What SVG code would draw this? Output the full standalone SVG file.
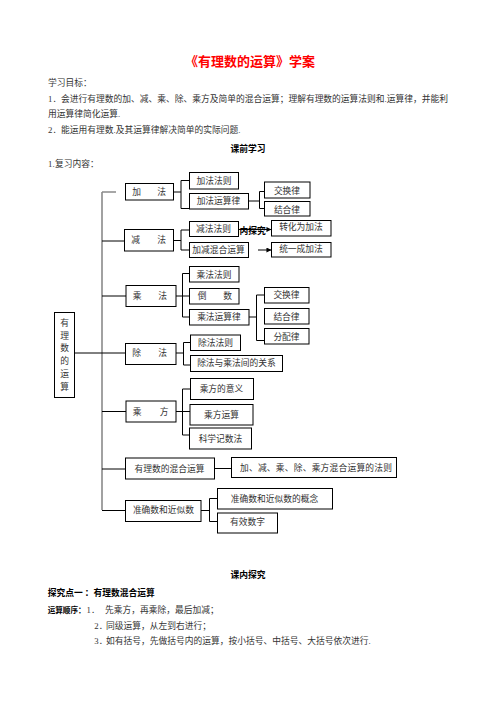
<svg xmlns="http://www.w3.org/2000/svg" width="496" height="702" viewBox="0 0 496 702">
<style>
.bg{fill:#fff}
.b{fill:#fff;stroke:#000;stroke-width:1}
.t{font-family:"Liberation Serif","Noto Sans CJK SC",serif;font-size:8.75px;fill:#333}
.c{text-anchor:middle}
.k{font-weight:bold;fill:#000}
.ln{stroke:#000;stroke-width:1;fill:none}
.gl{stroke:#8a8a8a;stroke-width:1.6;fill:none}
</style>
<defs>
<marker id="ah" viewBox="0 0 6 6" refX="5.5" refY="3" markerWidth="5" markerHeight="5" orient="auto" markerUnits="userSpaceOnUse">
<path d="M0,0 L6,3 L0,6 Z" fill="#000"/>
</marker>
</defs>
<rect class="bg" x="0" y="0" width="496" height="702"/>

<g id="header">
<text x="250" y="65.6" class="c" font-family="'Liberation Serif','Noto Sans CJK SC',serif" font-size="13" font-weight="bold" fill="#ff0000">《有理数的运算》学案</text>
<text class="t" x="48" y="86">学习目标：</text>
<text class="t" y="101.6"><tspan x="48">1．</tspan><tspan x="61" textLength="387" lengthAdjust="spacing">会进行有理数的加、减、乘、除、乘方及简单的混合运算；理解有理数的运算法则和.运算律，并能利</tspan></text>
<text class="t" x="48" y="117.3">用运算律简化运算.</text>
<text class="t" y="133.3"><tspan x="48">2．</tspan><tspan x="61">能运用有理数.及其运算律解决简单的实际问题.</tspan></text>
<text class="t c k" x="248" y="151.6">课前学习</text>
<text class="t" y="167.3"><tspan x="48">1.</tspan><tspan x="55">复习内容：</tspan></text>
</g>

<g id="connectors">
<path class="gl" d="M102,192 V510 M102,192 H116"/>
<path class="ln" d="M102,241 H124.5 M102,296 H126 M74.5,353 H125.5 M102,411.5 H126 M102,469 H125.5 M102,510.5 H125.5"/>
<path class="ln" d="M173.5,192 H181 M181,180.5 V208.5 M181,180.5 H189.5 M181,208.5 H189.5"/>
<path class="ln" d="M248.5,201 H259.5 M259.5,191.5 V208.5 M259.5,191.5 H264.5 M259.5,208.5 H264.5"/>
<path class="ln" d="M173.5,240.5 H181 M181,230 V250 M181,230 H189.5 M181,250 H189.5"/>
<path class="ln" d="M176,296 H189.5 M182.5,273.5 V317 M182.5,273.5 H189.5 M182.5,317 H189.5"/>
<path class="ln" d="M249,317 H256.5 M256.5,295 V340.5 M256.5,295 H264.5 M256.5,340.5 H264.5"/>
<path class="ln" d="M176,353 H183.5 M183.5,342.5 V365 M183.5,342.5 H190.5 M183.5,365 H190.5"/>
<path class="ln" d="M176,411.5 H190 M182.5,389 V435 M182.5,389 H190.5 M182.5,435 H189.5"/>
<path class="ln" d="M214.5,468.5 H231.5"/>
<path class="ln" d="M201,510.5 H209.5 M209.5,498.5 V521.5 M209.5,498.5 H217.5 M209.5,521.5 H217.5"/>
<path class="ln" d="M238.5,229.5 H271" marker-end="url(#ah)"/>
<path class="ln" d="M258,250 H271" marker-end="url(#ah)"/>
</g>

<g id="n-root"><rect class="b" x="54.5" y="312.5" width="20" height="85"/><text class="t c" x="64.5 64.5 64.5 64.5 64.5 64.5" y="326 338.5 351 364.3 377.3 390.3">有理数的运算</text></g>
<g id="n-jia"><rect class="b" x="125.5" y="183.5" width="48" height="16.5"/><text class="t c" x="136.7 161.7" y="194.7">加法</text></g>
<g id="n-jiafz"><rect class="b" x="189.5" y="172.5" width="49" height="16.5"/><text class="t c" x="214" y="183.8">加法法则</text></g>
<g id="n-jiayl"><rect class="b" x="189.5" y="193.5" width="59" height="15.5"/><text class="t c" x="218.5" y="204.3">加法运算律</text></g>
<g id="n-jh1"><rect class="b" x="264.5" y="182" width="45.5" height="16"/><text class="t c" x="287" y="193.6">交换律</text></g>
<g id="n-jh2"><rect class="b" x="264.5" y="201.5" width="45.5" height="14.5"/><text class="t c" x="287" y="212.6">结合律</text></g>
<g id="n-jian"><rect class="b" x="124.5" y="229.5" width="49" height="21.5"/><text class="t c" x="135.5 161.7" y="243">减法</text></g>
<g id="n-jianfz"><rect class="b" x="189.5" y="221.5" width="49" height="15"/><text class="t c" x="213.5" y="231.8">减法法则</text></g>
<g id="n-jjhh"><rect class="b" x="189.5" y="242.5" width="59" height="15"/><text class="t c" x="218.5" y="253">加减混合运算</text></g>
<text class="t k" x="239.5" y="234" font-size="9.5">内探究</text>
<g id="n-zhjf"><rect class="b" x="271.5" y="220.5" width="59.5" height="15.5"/><text class="t c" x="301" y="230.2">转化为加法</text></g>
<g id="n-tycjf"><rect class="b" x="271.5" y="242.5" width="59.5" height="14.5"/><text class="t c" x="301" y="251.7">统一成加法</text></g>
<g id="n-chengfz"><rect class="b" x="189.5" y="266.5" width="49.5" height="15.5"/><text class="t c" x="214" y="277.8">乘法法则</text></g>
<g id="n-cheng"><rect class="b" x="126" y="285.5" width="50" height="21"/><text class="t c" x="137 162.7" y="298.7">乘法</text></g>
<g id="n-daoshu"><rect class="b" x="189.5" y="288.5" width="49.5" height="15.5"/><text class="t c" x="202 227.7" y="299.4">倒数</text></g>
<g id="n-chengyl"><rect class="b" x="189.5" y="309.5" width="59.5" height="15.5"/><text class="t c" x="219" y="320.4">乘法运算律</text></g>
<g id="n-ch1"><rect class="b" x="264.5" y="287.5" width="44.5" height="15.5"/><text class="t c" x="286.5" y="298.4">交换律</text></g>
<g id="n-ch2"><rect class="b" x="264.5" y="308.5" width="44.5" height="15.5"/><text class="t c" x="286.5" y="319.6">结合律</text></g>
<g id="n-ch3"><rect class="b" x="264.5" y="328.5" width="44.5" height="15.5"/><text class="t c" x="286.5" y="339.7">分配律</text></g>
<g id="n-chu"><rect class="b" x="125.5" y="343.5" width="50.5" height="21"/><text class="t c" x="136.7 162.7" y="355.8">除法</text></g>
<g id="n-chufz"><rect class="b" x="190.5" y="335" width="50" height="15.5"/><text class="t c" x="215.5" y="345.6">除法法则</text></g>
<g id="n-chugx"><rect class="b" x="190.5" y="355.5" width="92" height="16"/><text class="t c" x="236.5" y="365.6">除法与乘法间的关系</text></g>
<g id="n-chengfang"><rect class="b" x="126" y="401" width="50" height="21"/><text class="t c" x="137 164" y="414.8">乘方</text></g>
<g id="n-cfyy"><rect class="b" x="190.5" y="378.5" width="63" height="21"/><text class="t c" x="221.5" y="391.6">乘方的意义</text></g>
<g id="n-cfys"><rect class="b" x="190" y="404.5" width="63" height="20.5"/><text class="t c" x="221.5" y="417.6">乘方运算</text></g>
<g id="n-kxjs"><rect class="b" x="189.5" y="428" width="62" height="21"/><text class="t c" x="220.5" y="441.6">科学记数法</text></g>
<g id="n-hhys"><rect class="b" x="125.5" y="458" width="89" height="21"/><text class="t c" x="169.5" y="471.6">有理数的混合运算</text></g>
<g id="n-hhfz"><rect class="b" x="231.5" y="457.5" width="165" height="20"/><text class="t" x="240" y="470.6" textLength="152" lengthAdjust="spacing">加、减、乘、除、乘方混合运算的法则</text></g>
<g id="n-zqs"><rect class="b" x="125.5" y="500.5" width="75.5" height="21"/><text class="t c" x="163.5" y="513.4">准确数和近似数</text></g>
<g id="n-gn"><rect class="b" x="217.5" y="488.5" width="115" height="20.5"/><text class="t c" x="274.5" y="501.5">准确数和近似数的概念</text></g>
<g id="n-yxsz"><rect class="b" x="217.5" y="513" width="60" height="20"/><text class="t c" x="247.5" y="525">有效数字</text></g>

<g id="footer">
<text class="t c k" x="248" y="578.3">课内探究</text>
<text class="t k" x="47.7" y="596">探究点一 ：有理数混合运算</text>
<text class="t" y="612.6"><tspan x="47.7" class="k" font-size="7.6">运算顺序：</tspan><tspan x="86.5">1．</tspan><tspan x="105">先乘方，再乘除，最后加减；</tspan></text>
<text class="t" y="629"><tspan x="94.3">2．</tspan><tspan x="106">同级运算，从左到右进行；</tspan></text>
<text class="t" y="644.3"><tspan x="94.3">3．</tspan><tspan x="106">如有括号，先做括号内的运算，按小括号、中括号、大括号依次进行.</tspan></text>
</g>
</svg>
